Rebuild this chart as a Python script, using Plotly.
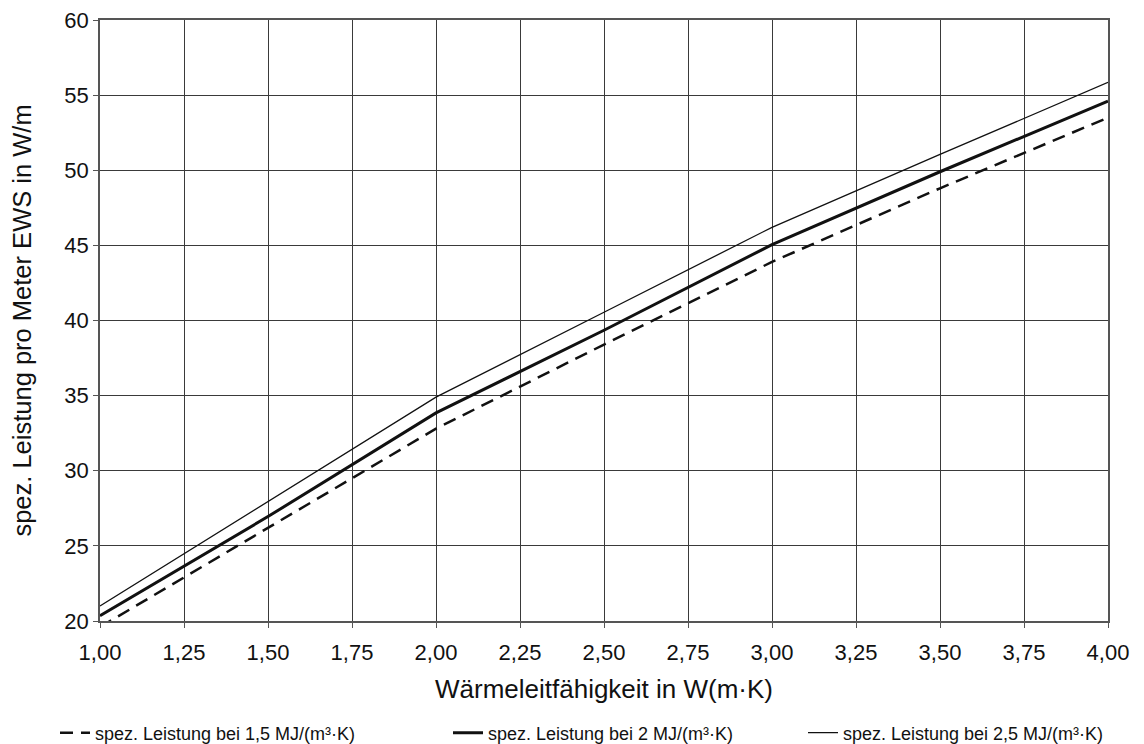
import plotly.graph_objects as go

x_vals = [1.0, 1.5, 2.0, 2.5, 3.0, 3.5, 4.0]
y_15 = [19.6, 26.2, 32.8, 38.4, 43.9, 48.8, 53.5]
y_20 = [20.35, 26.95, 33.85, 39.35, 45.05, 49.9, 54.6]
y_25 = [21.0, 27.95, 34.9, 40.55, 46.2, 51.05, 55.85]

names = [
    "spez. Leistung bei 1,5 MJ/(m³·K)",
    "spez. Leistung bei 2 MJ/(m³·K)",
    "spez. Leistung bei 2,5 MJ/(m³·K)",
]
x_ticks = [1.0, 1.25, 1.5, 1.75, 2.0, 2.25, 2.5, 2.75, 3.0, 3.25, 3.5, 3.75, 4.0]
y_ticks = [20, 25, 30, 35, 40, 45, 50, 55, 60]

FONT = "Liberation Sans, Arial, sans-serif"
W, H = 1144, 744

fig = go.Figure()
fig.add_trace(go.Scatter(x=x_vals, y=y_15, mode="lines", name=names[0], legend="legend",
                         line=dict(color="#111", width=2.5, dash="13px,8px")))
fig.add_trace(go.Scatter(x=x_vals, y=y_20, mode="lines", name=names[1], legend="legend2",
                         line=dict(color="#111", width=3)))
fig.add_trace(go.Scatter(x=x_vals, y=y_25, mode="lines", name=names[2], legend="legend3",
                         line=dict(color="#111", width=1.3)))

axis_common = dict(
    showgrid=True, gridcolor="#3a3a3a", gridwidth=1,
    showline=True, linecolor="#555", linewidth=1.5, mirror=True,
    ticks="outside", ticklen=5, tickcolor="#555",
    tickfont=dict(size=22, color="#111", family=FONT),
    zeroline=False, automargin=False, ticklabeloverflow="allow",
)

fig.update_xaxes(range=[1.0, 4.0], tickvals=x_ticks, tickformat=".2f",
                 ticklabelstandoff=6,
                 title=dict(text="Wärmeleitfähigkeit in W(m·K)",
                            font=dict(size=26, color="#111", family=FONT), standoff=16),
                 **axis_common)
fig.update_yaxes(range=[20, 60], tickvals=y_ticks,
                 title=dict(text="spez. Leistung pro Meter EWS in W/m",
                            font=dict(size=25.5, color="#111", family=FONT), standoff=28),
                 **axis_common)

def leg(xpx):
    return dict(orientation="h", xref="container", x=xpx / W, xanchor="left",
                yref="container", y=(H - 725) / H, yanchor="middle",
                font=dict(size=18, color="#111", family=FONT),
                bgcolor="rgba(0,0,0,0)", itemwidth=30)

fig.update_layout(
    width=W, height=H,
    margin=dict(l=92, r=44, t=12, b=131),
    paper_bgcolor="white", plot_bgcolor="white",
    separators=", ",
    font=dict(family=FONT, color="#111"),
    showlegend=True,
    legend=leg(47),
    legend2=leg(440),
    legend3=leg(795),
)

fig.write_html("out.html")
